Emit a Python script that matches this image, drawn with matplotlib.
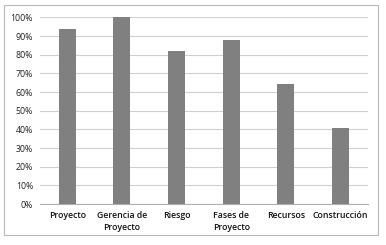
import matplotlib
matplotlib.use("Agg")
import matplotlib.pyplot as plt
from matplotlib.patches import Rectangle
from matplotlib.ticker import PercentFormatter

# Datos
categorias = ["Proyecto", "Gerencia de\nProyecto", "Riesgo", "Fases de\nProyecto",
              "Recursos", "Construcción"]
valores = [0.94, 1.00, 0.82, 0.88, 0.643, 0.407]
ticks_y = [0.0, 0.1, 0.2, 0.3, 0.4, 0.5, 0.6, 0.7, 0.8, 0.9, 1.0]

plt.rcParams["font.family"] = ["Open Sans", "DejaVu Sans"]

fig = plt.figure(figsize=(3.86, 2.45), dpi=100)
ax = fig.add_axes([0.1036, 0.1673, 0.8494, 0.7617])

x = range(len(categorias))
ax.bar(x, valores, width=0.31, color="#808080", zorder=3)

ax.set_xlim(-0.5, len(categorias) - 0.5)
ax.set_ylim(0, 1.0)
ax.set_yticks(ticks_y)
ax.yaxis.set_major_formatter(PercentFormatter(1.0, decimals=0))
ax.set_xticks(list(x))
ax.set_xticklabels(categorias, fontsize=6.3, color="#111111", linespacing=1.5,
                   fontweight="semibold")
ax.tick_params(axis="y", labelsize=6.3, labelcolor="#222222", length=0, pad=5)
ax.tick_params(axis="x", length=0, pad=5)

ax.grid(axis="y", color="#d0d0d0", linewidth=0.8, zorder=0)
for side in ["top", "right", "left"]:
    ax.spines[side].set_visible(False)
ax.spines["bottom"].set_color("#b0b0b0")
ax.spines["bottom"].set_linewidth(0.8)

# cadre du graphique
fig.patches.append(Rectangle((4 / 386, 1 - 235 / 245), 374 / 386, 230 / 245,
                             transform=fig.transFigure, fill=False,
                             edgecolor="#b8b8b8", linewidth=0.8))

fig.savefig("out.png", dpi=100)
